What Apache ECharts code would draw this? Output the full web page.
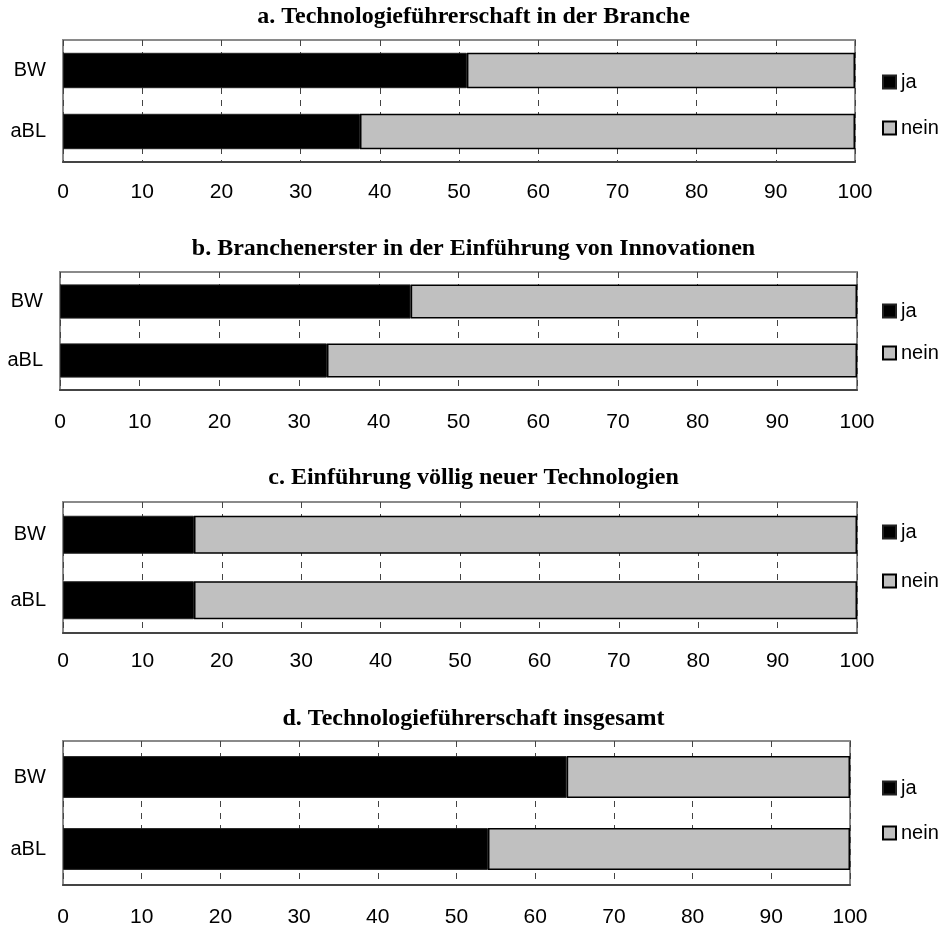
<!DOCTYPE html>
<html><head><meta charset="utf-8">
<script src="https://cdn.jsdelivr.net/npm/echarts@6/dist/echarts.min.js"></script>
<style>html,body{margin:0;padding:0;background:#fff}#c{width:947px;height:929px}</style>
</head><body><div id="c"></div>
<script>
const categories = ['BW', 'aBL'];
const titles = [
  'a. Technologieführerschaft in der Branche',
  'b. Branchenerster in der Einführung von Innovationen',
  'c. Einführung völlig neuer Technologien',
  'd. Technologieführerschaft insgesamt'
];
const jaA = [51, 37.5], neinA = [49, 62.5];
const jaB = [44, 33.5], neinB = [56, 66.5];
const jaC = [16.5, 16.5], neinC = [83.5, 83.5];
const jaD = [64, 54], neinD = [36, 46];
const xTicks = [0, 10, 20, 30, 40, 50, 60, 70, 80, 90, 100];

const ja = [jaA, jaB, jaC, jaD];
const nein = [neinA, neinB, neinC, neinD];
const layout = [
  {left: 63, right: 92, top: 40, height: 122, titleTop: 5, legTop: 67, legGap: 26, lblMargin: 20},
  {left: 60, right: 90, top: 272, height: 118, titleTop: 237, legTop: 296, legGap: 22, lblMargin: 22},
  {left: 63, right: 90, top: 502, height: 131, titleTop: 466, legTop: 517, legGap: 29, lblMargin: 18},
  {left: 63, right: 97, top: 741, height: 144, titleTop: 707, legTop: 773, legGap: 25, lblMargin: 22}
];
const sans = 'Liberation Sans, Arial, sans-serif';
const option = {animation: false, title: [], legend: [], grid: [], xAxis: [], yAxis: [], series: []};
layout.forEach((L, i) => {
  option.title.push({text: titles[i], left: 'center', top: L.titleTop, padding: 0,
    textStyle: {fontFamily: 'Liberation Serif, Times New Roman, serif', fontWeight: 'bold', fontSize: 24, color: '#000'}});
  option.grid.push({left: L.left, right: L.right, top: L.top, height: L.height, show: true,
    borderColor: '#8a8a8a', borderWidth: 2, backgroundColor: 'transparent'});
  option.legend.push({data: ['ja', 'nein'], orient: 'vertical', left: 877, top: L.legTop,
    itemWidth: 13, itemHeight: 13, itemGap: L.legGap, icon: 'rect',
    textStyle: {fontFamily: sans, fontSize: 20, color: '#000'}});
  option.xAxis.push({type: 'value', gridIndex: i, min: 0, max: 100, interval: 10,
    axisLine: {show: true, onZero: false, lineStyle: {color: '#444', width: 2}},
    axisTick: {show: false},
    axisLabel: {margin: L.lblMargin, fontFamily: sans, fontSize: 21, color: '#000',
      formatter: v => xTicks.includes(v) ? String(v) : ''},
    splitLine: {show: true, lineStyle: {color: '#444', width: 1, type: [6, 6]}}});
  option.yAxis.push({type: 'category', gridIndex: i, data: categories, inverse: true,
    axisLine: {show: false}, axisTick: {show: false},
    axisLabel: {margin: 17, fontFamily: sans, fontSize: 20, color: '#000'}});
  option.series.push({name: 'ja', type: 'bar', stack: 's' + i, xAxisIndex: i, yAxisIndex: i,
    data: ja[i], barCategoryGap: '42%',
    itemStyle: {color: '#000', borderColor: '#222', borderWidth: 1}});
  option.series.push({name: 'nein', type: 'bar', stack: 's' + i, xAxisIndex: i, yAxisIndex: i,
    data: nein[i], barCategoryGap: '42%',
    itemStyle: {color: '#c0c0c0', borderColor: '#000', borderWidth: 1.5}});
});
const chart = echarts.init(document.getElementById('c'), null, {renderer: 'canvas'});
chart.setOption(option);
</script></body></html>
